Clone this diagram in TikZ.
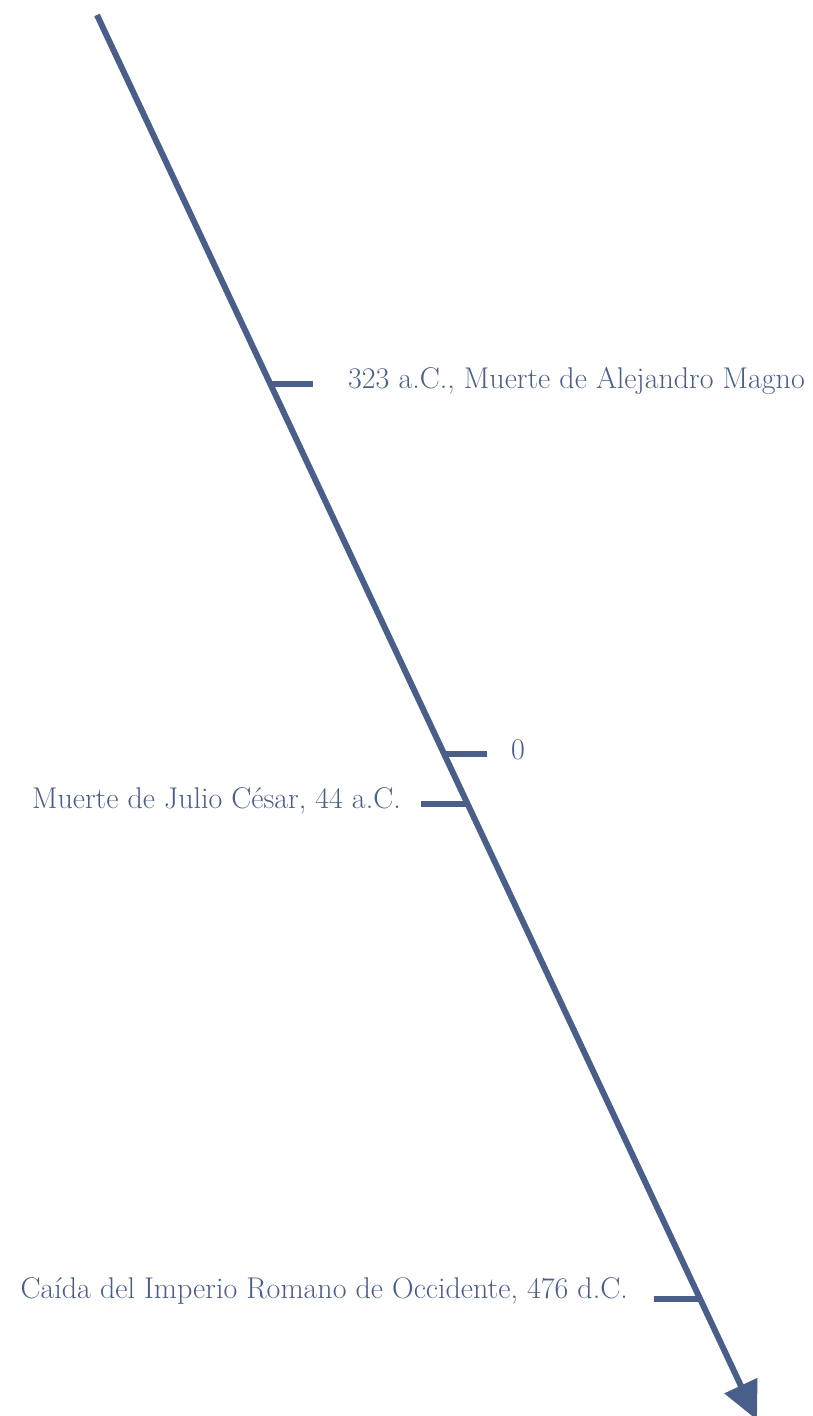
\documentclass[tikz,border=0pt]{standalone}
\usepackage{fontspec}
\usepackage{tikz}
\usetikzlibrary{arrows.meta,calc}
\definecolor{lineablue}{RGB}{74,94,138}

\begin{document}
\begin{tikzpicture}[x=1pt,y=-1pt,
  eje/.style={line width=6pt,draw=lineablue,-{Triangle[length=38pt,width=35pt]}},
  marca/.style={line width=6pt,draw=lineablue},
  fecha/.style={text=lineablue,font=\fontsize{30}{34}\selectfont,inner sep=0pt}]
  \useasboundingbox (0,0) rectangle (812,1416);
  \coordinate (inicio) at (97,15);
  \coordinate (fin) at (757,1420);
  \draw[eje] (inicio) -- (fin);
  \coordinate (m323) at ($(inicio)!0.2626!(fin)$);
  \coordinate (m0) at ($(inicio)!0.5261!(fin)$);
  \coordinate (m44) at ($(inicio)!0.5618!(fin)$);
  \coordinate (m476) at ($(inicio)!0.9137!(fin)$);
  \coordinate (e323) at (313,383);
  \coordinate (e0) at (487,752);
  \coordinate (e44) at (421,802);
  \coordinate (e476) at (654,1295);
  \draw[marca] (m323) -- (m323 -| e323);
  \draw[marca] (m0) -- (m0 -| e0);
  \draw[marca] (m44) -- (m44 -| e44);
  \draw[marca] (m476) -- (m476 -| e476);
  \node[fecha,anchor=west] (t323) at (348,381) {323 a.C., Muerte de Alejandro Magno};
  \node[fecha,anchor=west] (t0) at (511,750) {0};
  \node[fecha,anchor=east] (t44) at (401,801) {Muerte de Julio César, 44 a.C.};
  \node[fecha,anchor=east] (t476) at (628,1291) {Caída del Imperio Romano de Occidente, 476 d.C.};
\end{tikzpicture}
\end{document}
